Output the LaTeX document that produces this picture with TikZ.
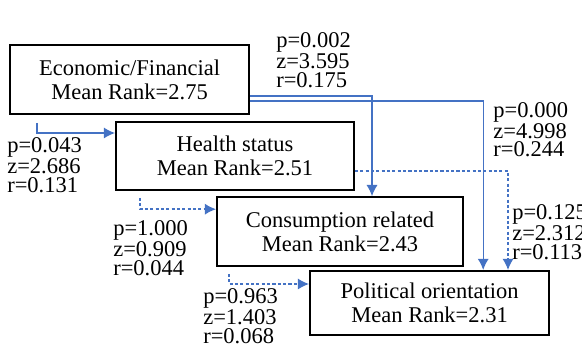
\documentclass[tikz,border=0pt]{standalone}
\usepackage{fontspec}
\setmainfont{Liberation Serif}
\usetikzlibrary{arrows.meta, positioning, calc}
\definecolor{cblue}{HTML}{4472C4}
\tikzset{
  every picture/.style={font=\fontsize{16pt}{17pt}\selectfont},
  rankbox/.style={draw=black, line width=1.4pt, align=center, minimum width=#1, minimum height=1.72cm, inner sep=2pt},
  rankbox/.default=5.98cm,
  link/.style={-{Latex[length=8pt, width=8pt]}, draw=cblue, line width=1pt},
  dlink/.style={link, dash pattern=on 2.2pt off 1.6pt},
  stat/.style={anchor=west, align=left, inner sep=0pt, font=\fontsize{16pt}{13.2pt}\selectfont},
}

\begin{document}
\begin{tikzpicture}
  \useasboundingbox (0,0) rectangle (14.55,8.75);
  % the four groups
  \node[rankbox] (econ) at (3.24,6.76) {Economic/Financial\\Mean Rank=2.75};
  \node[rankbox=5.95cm, minimum height=1.7cm] (health) at (5.875,4.85) {Health status\\Mean Rank=2.51};
  \node[rankbox=6.15cm] (cons) at (8.5,2.96) {Consumption related\\Mean Rank=2.43};
  \node[rankbox, minimum height=1.6cm] (pol) at (10.74,1.175) {Political orientation\\Mean Rank=2.31};
  % start points below the boxes
  \coordinate (s1) at ([xshift=0.7cm, yshift=-0.2cm]econ.south west);
  \coordinate (s2) at ([xshift=0.625cm, yshift=-0.175cm]health.south west);
  \coordinate (s3) at ([xshift=0.325cm, yshift=-0.175cm]cons.south west);
  % comparisons
  \draw[link] (s1) |- ([yshift=0.575cm]health.west);
  \draw[link] ([yshift=-0.41cm]econ.east) -| ([xshift=0.8cm]cons.north);
  \draw[link] ([yshift=-0.54cm]econ.east) -| ([xshift=1.34cm]pol.north);
  \draw[dlink] (s2) |- ([yshift=0.56cm]cons.west);
  \draw[dlink] ([yshift=-0.375cm]health.east) -| ([xshift=1.96cm]pol.north);
  \draw[dlink] (s3) |- ([yshift=0.475cm]pol.west);
  % test values
  \node[stat] (t1) at (6.9,7.25) {p=0.002\\z=3.595\\r=0.175};
  \node[stat] (t2) at (0.175,4.625) {p=0.043\\z=2.686\\r=0.131};
  \node[stat] (t3) at (12.33,5.51) {p=0.000\\z=4.998\\r=0.244};
  \node[stat] (t4) at (2.825,2.55) {p=1.000\\z=0.909\\r=0.044};
  \node[stat] (t5) at (12.8,2.95) {p=0.125\\z=2.312\\r=0.113};
  \node[stat] (t6) at (5.075,0.85) {p=0.963\\z=1.403\\r=0.068};
\end{tikzpicture}
\end{document}
